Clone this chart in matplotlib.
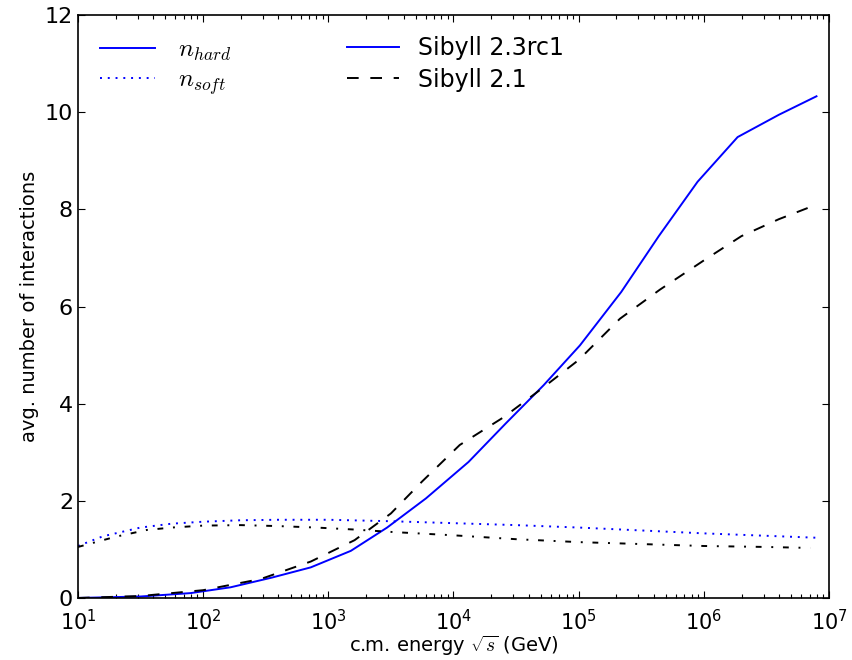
import numpy as np
import matplotlib
matplotlib.use('Agg')
import matplotlib.pyplot as plt

# log10 of sqrt(s) in GeV
hard_23_logx = [1.0, 1.5, 1.9, 2.22, 2.55, 2.86, 3.18, 3.47, 3.78, 4.12, 4.42, 4.72,
                5.01, 5.34, 5.64, 5.95, 6.27, 6.6, 6.9]
hard_23 = [0.0, 0.03, 0.1, 0.22, 0.42, 0.63, 0.97, 1.45, 2.05, 2.8, 3.6, 4.38,
           5.2, 6.3, 7.45, 8.57, 9.49, 9.95, 10.33]

hard_21_logx = [1.0, 1.5, 2.0, 2.46, 2.86, 3.21, 3.5, 3.75, 4.05, 4.4, 4.7, 5.0,
                5.33, 5.65, 6.0, 6.3, 6.6, 6.87]
hard_21 = [0.0, 0.04, 0.16, 0.39, 0.75, 1.19, 1.74, 2.4, 3.15, 3.72, 4.3, 4.9,
           5.75, 6.35, 6.95, 7.45, 7.8, 8.07]

soft_23_logx = [1.0, 1.2, 1.5, 1.75, 2.0, 2.3, 2.6, 3.0, 3.5, 4.0, 4.5, 5.0, 5.5,
                6.0, 6.5, 6.9]
soft_23 = [1.07, 1.27, 1.45, 1.53, 1.57, 1.6, 1.61, 1.61, 1.58, 1.54, 1.5, 1.45,
           1.39, 1.33, 1.28, 1.24]

soft_21_logx = [1.0, 1.3, 1.55, 1.75, 2.0, 2.3, 2.6, 2.9, 3.2, 3.5, 4.0, 4.5, 5.0,
                5.5, 6.0, 6.5, 6.85]
soft_21 = [1.05, 1.26, 1.4, 1.45, 1.49, 1.5, 1.48, 1.45, 1.41, 1.36, 1.29, 1.21,
           1.15, 1.11, 1.07, 1.05, 1.03]

plt.rcParams['mathtext.fontset'] = 'cm'
plt.rcParams['xtick.direction'] = 'in'
plt.rcParams['ytick.direction'] = 'in'
plt.rcParams['xtick.top'] = True
plt.rcParams['ytick.right'] = True

fig = plt.figure(figsize=(8.52, 6.6), dpi=100)
ax = fig.add_axes([0.0915, 0.094, 0.8815, 0.883])

dashed = (0, (6, 6))
dotted = (0, (1, 3))
dashdot = (0, (3, 5, 1, 5))

l1, = ax.plot(10 ** np.array(hard_23_logx), hard_23, color='b', lw=1.4)
l2, = ax.plot(10 ** np.array(hard_21_logx), hard_21, color='k', ls=dashed, lw=1.4)
l3, = ax.plot(10 ** np.array(soft_23_logx), soft_23, color='b', ls=dotted, lw=1.4)
l4, = ax.plot(10 ** np.array(soft_21_logx), soft_21, color='k', ls=dashdot, lw=1.4)

ax.set_xscale('log')
ax.set_xlim(10, 1e7)
ax.set_ylim(0, 12)
ax.set_yticks([0, 2, 4, 6, 8, 10, 12])
ax.tick_params(which='major', length=5, labelsize=16, width=0.8)
ax.tick_params(axis='x', which='major', pad=8, labelsize=15)
ax.tick_params(which='minor', length=3, width=0.8)
for s in ax.spines.values():
    s.set_linewidth(1.2)

ax.set_xlabel(r'c.m. energy $\sqrt{s}$ (GeV)', fontsize=14, labelpad=0)
ax.set_ylabel('avg. number of interactions', fontsize=14)

# legend for line style (hard / soft)
h1, = ax.plot([], [], color='b', lw=1.4)
h2, = ax.plot([], [], color='b', ls=dotted, lw=1.4)
leg1 = ax.legend([h1, h2], [r'$n_{hard}$', r'$n_{soft}$'], loc='upper left',
                 bbox_to_anchor=(0.0, 1.0), frameon=False, fontsize=18,
                 handlelength=2.2, handletextpad=0.9, labelspacing=0.2)
ax.add_artist(leg1)
ax.legend([l1, l2], ['Sibyll 2.3rc1', 'Sibyll 2.1'], loc='upper left',
          bbox_to_anchor=(0.33, 1.0), frameon=False, fontsize=17,
          handlelength=2.2, handletextpad=0.8, labelspacing=0.3)

fig.savefig('out.png', dpi=100, facecolor='white')
